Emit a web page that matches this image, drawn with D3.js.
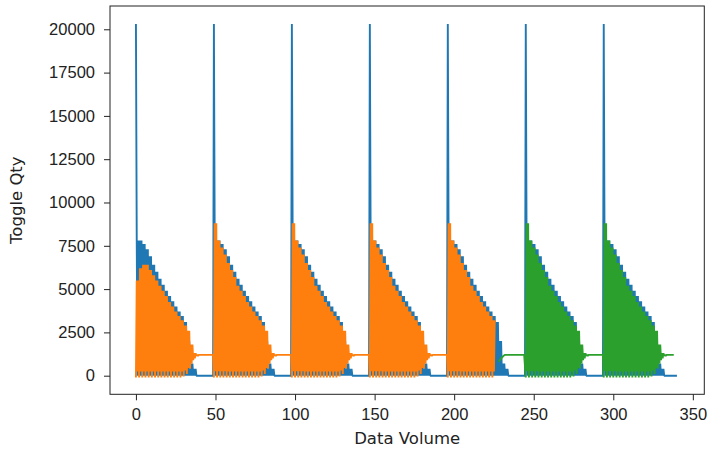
<!DOCTYPE html>
<html lang="en">
<head>
<meta charset="UTF-8">
<title>Toggle Qty</title>
<script src="https://d3js.org/d3.v7.min.js"></script>
<style>
  html, body { margin: 0; padding: 0; background: #fff; }
  svg { display: block; font-family: 'DejaVu Sans', sans-serif; }
  .tick text { font-size: 16.5px; fill: #222; }
  .tick line, .domain { stroke: #222; }
  .axis-label { font-size: 16.5px; fill: #222; }
</style>
</head>
<body>
<div id="chart"></div>
<script>
// ---- data ----
var xTicks = [0, 50, 100, 150, 200, 250, 300, 350];
var yTicks = [0, 2500, 5000, 7500, 10000, 12500, 15000, 17500, 20000];

// each cycle is 49 units long and starts with one blue spike
var cycleStarts = [0, 49, 98, 147, 196, 245, 294];
var cycleSeries = ['orange', 'orange', 'orange', 'orange', 'orange', 'green', 'green'];
var spikeQty = 20300;
var step = 0.5;   // samples every half unit, peaks and troughs alternate

// blue peak level per 2-unit block after each spike (0 after the last one)
var blueHigh = [7800, 7800, 7600, 7300, 6900, 6400, 6000, 5600, 5250, 4900,
                4600, 4300, 4000, 3700, 3450, 3100, 2000, 700, 400];

// orange / green peak level per 2-unit block
var firstHigh = [5500, 6200, 6400, 6400, 6100, 5800, 5500, 5200, 4900, 4600,
                 4250, 4000, 3700, 3450, 3200, 2900, 2600, 1800, 1300, 1200,
                 1200, 1200, 1200, 1200, 1200];
var cycleHigh = [8800, 7800, 7400, 7000, 6500, 6100, 5700, 5200, 4900, 4600,
                 4250, 4000, 3700, 3450, 3200, 2900, 2600, 1800, 1300, 1200,
                 1200, 1200, 1200, 1200, 1200];
// deep and shallow trough levels per 2-unit block
var cycleLow = [-100, -100, -100, -100, -100, -100, -100, -100, -100, -100,
                -100, -100, -100, -100, -100, -50, 100, 400, 900, 1150,
                1200, 1200, 1200, 1200, 1200];
var cycleLowShallow = [250, 250, 250, 250, 250, 250, 250, 250, 250, 250,
                       250, 250, 250, 250, 250, 300, 450, 700, 1000, 1150,
                       1200, 1200, 1200, 1200, 1200];

// orange stops early in the 5th cycle, green picks up with a short lead-in
var orangeCut = 225.5;
var greenLeadStart = 228;
var greenLead = [800, 950, 1050, 1150, 1200, 1200, 1200, 1200, 1200,
                 1200, 1200, 1200, 1200, 1200, 1200, 1200, 1200];
var blueEnd = 340, greenEnd = 338;

// ---- build the series ----
var blue = [], orange = [], green = [];
var perCycle = 49 / step;
cycleStarts.forEach(function(s, i) {
  for (var j = 0; j < perCycle; j++) {
    var xv = s + j * step;
    if (xv > blueEnd) break;
    var b = Math.floor(j * step / 2);
    var v = 0;
    if (j === 0) v = spikeQty;
    else if (j % 2 === 1 && b < blueHigh.length) v = blueHigh[b];
    blue.push({x: xv, y: v});
  }
  var kind = cycleSeries[i];
  var target = kind === 'orange' ? orange : green;
  var highs = i === 0 ? firstHigh : cycleHigh;
  for (var j = 0; j < perCycle; j++) {
    var xv = s + j * step;
    if (kind === 'orange' && xv > orangeCut) break;
    if (kind === 'green' && xv > greenEnd) break;
    var b = Math.floor(j * step / 2);
    var v = j % 2 ? highs[b] : (j % 4 === 0 ? cycleLow[b] : cycleLowShallow[b]);
    target.push({x: xv, y: v});
  }
  if (kind === 'orange' && cycleSeries[i + 1] === 'green') {
    greenLead.forEach(function(v, k) { green.push({x: greenLeadStart + k, y: v}); });
  }
});

// ---- chart ----
var width = 713, height = 451;
var plotLeft = 110, plotRight = 704.3, plotTop = 6, plotBottom = 394.3;

var svg = d3.select('#chart').append('svg')
  .attr('width', width)
  .attr('height', height);

var x = d3.scaleLinear().domain([-16.3, 357.2]).range([plotLeft, plotRight]);
var y = d3.scaleLinear().domain([-1074, 21345]).range([plotBottom, plotTop]);

var line = d3.line()
  .x(function(d) { return x(d.x); })
  .y(function(d) { return y(d.y); });

var plot = svg.append('g');
[[blue, '#1f77b4'], [orange, '#ff7f0e'], [green, '#2ca02c']].forEach(function(s) {
  plot.append('path')
    .attr('d', line(s[0]))
    .attr('fill', 'none')
    .attr('stroke', s[1])
    .attr('stroke-width', 1.9)
    .attr('stroke-linejoin', 'bevel');
});

// frame
svg.append('rect')
  .attr('x', plotLeft).attr('y', plotTop)
  .attr('width', plotRight - plotLeft).attr('height', plotBottom - plotTop)
  .attr('fill', 'none').attr('stroke', '#222').attr('stroke-width', 1);

svg.append('g')
  .attr('transform', 'translate(0,' + plotBottom + ')')
  .call(d3.axisBottom(x).tickValues(xTicks).tickSize(6).tickPadding(8))
  .call(function(g) { g.select('.domain').remove(); });

svg.append('g')
  .attr('transform', 'translate(' + plotLeft + ',0)')
  .call(d3.axisLeft(y).tickValues(yTicks).tickSize(6).tickPadding(9).tickFormat(d3.format('d')))
  .call(function(g) { g.select('.domain').remove(); });

svg.append('text')
  .attr('class', 'axis-label')
  .attr('x', (plotLeft + plotRight) / 2)
  .attr('y', 444)
  .attr('text-anchor', 'middle')
  .text('Data Volume');

svg.append('text')
  .attr('class', 'axis-label')
  .attr('transform', 'translate(22,' + (plotTop + plotBottom) / 2 + ') rotate(-90)')
  .attr('text-anchor', 'middle')
  .text('Toggle Qty');
</script>
</body>
</html>
